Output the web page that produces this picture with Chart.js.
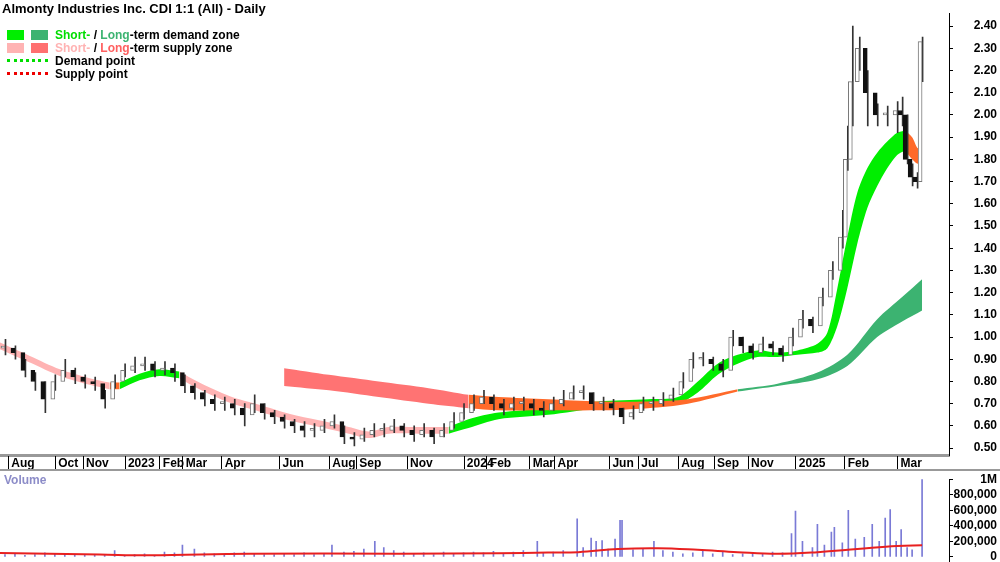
<!DOCTYPE html>
<html>
<head>
<meta charset="utf-8">
<script src="https://cdn.jsdelivr.net/npm/chart.js@4.4.0/dist/chart.umd.min.js"></script>
<style>
  body { margin: 0; background: #fff; font-family: "Liberation Sans", Arial, sans-serif; }
  #wrap { position: relative; width: 1000px; height: 562px; overflow: hidden; }
  #priceBox { position: absolute; left: 0; top: 0; width: 1000px; height: 470px; }
  #volBox { position: absolute; left: 0; top: 466px; width: 1000px; height: 110px; }
  .sep { position: absolute; left: 0; top: 469px; width: 1000px; height: 2px; background: #999; }
  .title { position: absolute; left: 2px; top: 1px; font-size: 13px; font-weight: bold; color: #000; }
  .legend { position: absolute; left: 7px; top: 29px; font-size: 12px; font-weight: bold; line-height: 13px; }
  .legend div { height: 13px; white-space: nowrap; }
  .sw { display: inline-block; width: 17px; height: 10px; margin-right: 7px; vertical-align: -1px; }
  .dot { display: inline-block; width: 41px; margin-right: 7px; border-top: 3px dotted; vertical-align: 3px; }
  .vol { position: absolute; left: 4px; top: 473px; font-size: 12px; font-weight: bold; color: #8c8cc8; }
</style>
</head>
<body>
<div id="wrap">
  <div id="priceBox"><canvas id="price"></canvas></div>
  <div id="volBox"><canvas id="volume"></canvas></div>
  <div class="sep"></div>
  <div class="title">Almonty Industries Inc. CDI 1:1 (All) - Daily</div>
  <div class="legend">
    <div><span class="sw" style="background:#00ee00"></span><span class="sw" style="background:#3cb371"></span><span style="color:#00dd00">Short-</span> / <span style="color:#3cb371">Long</span>-term demand zone</div>
    <div><span class="sw" style="background:#ffb3b3"></span><span class="sw" style="background:#ff7070"></span><span style="color:#ffb3b3">Short-</span> / <span style="color:#ff6060">Long</span>-term supply zone</div>
    <div><span class="dot" style="border-color:#00dd00"></span>Demand point</div>
    <div><span class="dot" style="border-color:#ee0000"></span>Supply point</div>
  </div>
  <div class="vol">Volume</div>
</div>
<script>
// price bars (x = position on the session axis)
const barX = [5,15,25,35,45,55,65,75,85,95,105,115,125,135,145,155,165,175,185,195,205,215,225,235,245,255,265,275,285,295,305,315,325,335,345,355,365,375,385,395,405,415,425,435,445,455,465,475,485,495,505,515,525,535,545,555,565,575,585,595,605,615,625,635,645,655,665,675,685,695,705,715,725,735,745,755,765,775,785,795,805,815,825,835,845,850,855,862,870,880,890,900,905,910,915,920,925];
const closes = [.95,.93,.85,.80,.72,.80,.85,.82,.80,.79,.72,.80,.85,.87,.88,.85,.86,.84,.78,.75,.72,.70,.70,.68,.65,.70,.66,.64,.62,.60,.58,.58,.60,.62,.55,.54,.56,.58,.58,.60,.58,.56,.58,.55,.58,.62,.66,.70,.73,.70,.68,.70,.70,.68,.67,.70,.72,.75,.75,.70,.70,.68,.64,.66,.70,.70,.72,.74,.80,.90,.90,.88,.85,1.00,.96,.93,.97,.95,.92,1.00,1.08,1.05,1.18,1.30,1.45,1.80,2.15,2.30,2.10,2.00,2.00,2.02,2.00,1.80,1.72,1.70,2.33];
const highs = [.99,.96,.90,.84,.80,.83,.90,.86,.83,.82,.76,.83,.88,.91,.91,.89,.89,.88,.83,.79,.76,.74,.73,.72,.70,.74,.70,.67,.65,.63,.62,.61,.63,.65,.60,.57,.59,.61,.61,.63,.61,.60,.61,.59,.61,.66,.70,.74,.76,.74,.72,.73,.73,.72,.71,.73,.76,.78,.78,.75,.73,.72,.68,.69,.73,.73,.75,.77,.84,.93,.93,.91,.90,1.03,1.00,.97,1.00,.98,.96,1.04,1.12,1.09,1.22,1.34,1.57,1.95,2.40,2.35,2.20,2.05,2.04,2.06,2.08,2.00,1.78,1.74,2.35];
const lows = [.92,.90,.82,.76,.66,.76,.82,.79,.77,.76,.68,.77,.82,.84,.85,.82,.83,.80,.75,.72,.69,.67,.67,.65,.60,.66,.63,.61,.59,.57,.55,.55,.57,.59,.52,.51,.53,.55,.55,.57,.55,.53,.55,.52,.55,.59,.63,.67,.70,.67,.65,.67,.67,.65,.64,.67,.69,.72,.72,.67,.67,.65,.61,.63,.67,.67,.69,.71,.77,.86,.87,.85,.82,.96,.93,.90,.94,.92,.89,.96,1.04,1.02,1.14,1.26,1.40,1.75,1.95,2.20,1.95,1.95,1.95,1.92,1.95,1.78,1.68,1.67,2.15];

// short-term zone
const shortX = [0,30,60,90,110,120,140,160,180,200,230,260,290,320,350,370,390,420,450,470,500,550,600,650,680,700,720,740,760,780,800,820,830,840,850,860,870,880,890,900,908,915,921,925];
const shortUp = [.975,.915,.855,.815,.795,.795,.835,.855,.845,.795,.735,.695,.655,.625,.595,.575,.595,.595,.595,.63,.66,.68,.71,.72,.73,.80,.88,.92,.94,.93,.94,.97,1.02,1.22,1.45,1.65,1.76,1.83,1.88,1.92,1.93,1.90,1.85,1.91];
const shortLo = [.945,.885,.825,.785,.765,.765,.805,.825,.815,.765,.705,.665,.625,.595,.565,.545,.565,.565,.565,.59,.63,.65,.68,.69,.70,.75,.83,.88,.91,.91,.92,.93,.95,1.05,1.22,1.42,1.58,1.68,1.76,1.82,1.84,1.80,1.78,1.82];
const shortZone = ['s','s','s','s','o','d','d','d','s','s','s','s','s','s','s','s','s','s','d','d','d','d','d','d','d','d','d','d','d','d','d','d','d','d','d','d','d','d','d','d','o','o','o','o'];

// long-term zone
const longX = [285,330,380,430,470,500,550,600,650,690,740,780,820,850,880,905,925];
const longUp = [.86,.83,.80,.77,.74,.73,.72,.71,.71,.72,.765,.79,.84,.92,1.08,1.18,1.26];
const longLo = [.78,.76,.73,.70,.68,.67,.67,.67,.68,.70,.755,.78,.81,.87,1.00,1.07,1.12];
const longZone = ['S','S','S','S','o','o','o','o','o','o','D','D','D','D','D','D','D'];

// volume (thousands)
const volX = [5,15,25,35,45,55,65,75,85,95,105,115,125,135,145,155,165,175,183,195,205,215,225,235,245,255,265,275,285,295,305,315,325,333,345,355,365,376,385,395,405,415,425,435,445,455,465,475,485,495,505,515,525,539,545,555,565,579,585,593,598,604,610,617,622,624,635,645,656,665,675,685,695,705,715,725,735,745,755,765,775,785,794,798,805,815,820,827,834,837,845,851,858,867,875,882,888,893,899,904,910,915,925];
const volumes = [30,40,20,30,50,40,30,20,25,30,20,80,20,30,40,20,60,50,150,100,50,40,30,50,60,40,30,30,40,30,50,30,40,150,60,70,100,200,120,80,60,40,50,30,60,40,50,60,50,70,40,60,80,200,50,60,80,490,120,240,200,210,100,230,470,470,90,110,200,80,60,40,50,70,40,60,30,40,50,40,60,50,300,590,200,120,420,150,320,380,180,600,230,250,420,200,500,610,200,350,120,90,1000];
const volMaX = [0,100,150,250,400,500,550,580,620,660,700,740,780,820,860,900,925];
const volMa = [50,30,20,40,40,45,55,60,100,110,90,60,40,60,100,140,150];

// axis labels
const monthPos = [8,55,83,125,160,183,222,280,330,357,408,465,488,531,556,611,640,680,716,750,798,847,900];
const monthNames = ['Aug','Oct','Nov','2023','Feb','Mar','Apr','Jun','Aug','Sep','Nov','2024','Feb','Mar','Apr','Jun','Jul','Aug','Sep','Nov','2025','Feb','Mar'];
const priceTicks = [.5,.6,.7,.8,.9,1.0,1.1,1.2,1.3,1.4,1.5,1.6,1.7,1.8,1.9,2.0,2.1,2.2,2.3,2.4];
const volTicks = [0,200,400,600,800,1000];

const X_MAX = 952;
const tickFont = { family: 'Liberation Sans', size: 12, weight: 'bold' };
const zoneColors = { s: '#ffb3b3', S: '#ff7373', d: '#00ee00', D: '#3cb371', o: '#ff6a2a' };

function zoneDatasets(xs, up, lo, zone, order) {
  const sets = [];
  [...new Set(zone)].forEach(z => {
    const keep = xs.map((_, i) => zone[i] === z || (i > 0 && zone[i - 1] === z));
    const pick = arr => xs.map((x, i) => ({ x: x, y: keep[i] ? arr[i] : null }));
    sets.push({ type: 'line', data: pick(up), borderWidth: 0, pointRadius: 0, fill: '+1',
      backgroundColor: zoneColors[z], tension: 0.3, order: order, spanGaps: false });
    sets.push({ type: 'line', data: pick(lo), borderWidth: 0, pointRadius: 0, fill: false,
      tension: 0.3, order: order, spanGaps: false });
  });
  return sets;
}

const opens = closes.map((c, i) => i === 0 ? c : closes[i - 1]);

// month tick marks run down through the label row
const monthMarks = {
  id: 'monthMarks',
  afterDraw(chart) {
    const { ctx, scales: { x }, chartArea } = chart;
    ctx.save();
    ctx.strokeStyle = '#000';
    ctx.lineWidth = 1;
    monthPos.forEach(v => {
      const px = Math.round(x.getPixelForValue(v)) + 0.5;
      ctx.beginPath();
      ctx.moveTo(px, chartArea.bottom + 1);
      ctx.lineTo(px, chart.height);
      ctx.stroke();
    });
    ctx.restore();
  }
};

const priceDatasets = [
  { type: 'bar', data: barX.map((x, i) => ({ x: x, y: [lows[i], highs[i]] })),
    backgroundColor: '#333', barThickness: 1, order: 1 },
  { type: 'bar', data: barX.map((x, i) => ({ x: x, y: [opens[i], closes[i]] })),
    backgroundColor: barX.map((x, i) => closes[i] >= opens[i] ? '#ffffff' : '#111111'),
    borderColor: barX.map((x, i) => closes[i] >= opens[i] ? '#777' : '#111'),
    borderWidth: 1, borderSkipped: false, barThickness: 4, minBarLength: 2, order: 0 },
  ...zoneDatasets(longX, longUp, longLo, longZone, 5),
  ...zoneDatasets(shortX, shortUp, shortLo, shortZone, 6)
];

new Chart(document.getElementById('price'), {
  type: 'bar',
  data: { datasets: priceDatasets },
  plugins: [monthMarks],
  options: {
    responsive: true, maintainAspectRatio: false, animation: false,
    layout: { padding: { left: 0, right: 3, top: 0, bottom: 0 } },
    plugins: { legend: { display: false }, tooltip: { enabled: false } },
    scales: {
      x: {
        type: 'linear', min: 0, max: X_MAX, offset: false,
        afterBuildTicks: axis => { axis.ticks = monthPos.map(v => ({ value: v })); },
        ticks: { align: 'start', autoSkip: false, maxRotation: 0, padding: 1, color: '#000', font: tickFont,
          callback: (v) => ' ' + monthNames[monthPos.indexOf(v)] },
        grid: { drawOnChartArea: false, drawTicks: false },
        border: { color: '#999', width: 3 },
        afterFit: axis => { axis.height = 15; }
      },
      y: {
        position: 'right', min: 0.469, max: 2.458,
        afterBuildTicks: axis => { axis.ticks = priceTicks.map(v => ({ value: v })); },
        ticks: { color: '#000', font: tickFont, crossAlign: 'far', padding: 6, autoSkip: false, callback: v => v.toFixed(2) },
        grid: { drawOnChartArea: false, tickLength: 4, color: '#000' },
        border: { color: '#000', width: 1 },
        afterFit: axis => { axis.width = 48; }
      }
    }
  }
});

new Chart(document.getElementById('volume'), {
  type: 'bar',
  data: {
    datasets: [
      { type: 'line', data: volMaX.map((x, i) => ({ x: x, y: volMa[i] })), borderColor: '#e82020',
        borderWidth: 2, pointRadius: 0, tension: 0.4, order: 0 },
      { type: 'bar', data: volX.map((x, i) => ({ x: x, y: volumes[i] })), backgroundColor: '#7a7ad6',
        barThickness: 1, order: 1 }
    ]
  },
  options: {
    responsive: true, maintainAspectRatio: false, animation: false,
    layout: { padding: { left: 0, right: 3, top: 0, bottom: 0 } },
    plugins: { legend: { display: false }, tooltip: { enabled: false } },
    scales: {
      x: { type: 'linear', min: 0, max: X_MAX, offset: false, display: false },
      y: {
        position: 'right', min: -77, max: 1000,
        afterBuildTicks: axis => { axis.ticks = volTicks.map(v => ({ value: v })); },
        ticks: { color: '#000', font: tickFont, crossAlign: 'far', padding: 6, autoSkip: false,
          callback: v => v === 1000 ? '1M' : (v * 1000).toLocaleString('en-US') },
        grid: { drawOnChartArea: false, tickLength: 4, color: '#000' },
        border: { color: '#000', width: 1 },
        afterFit: axis => { axis.width = 48; }
      }
    }
  }
});
</script>
</body>
</html>
